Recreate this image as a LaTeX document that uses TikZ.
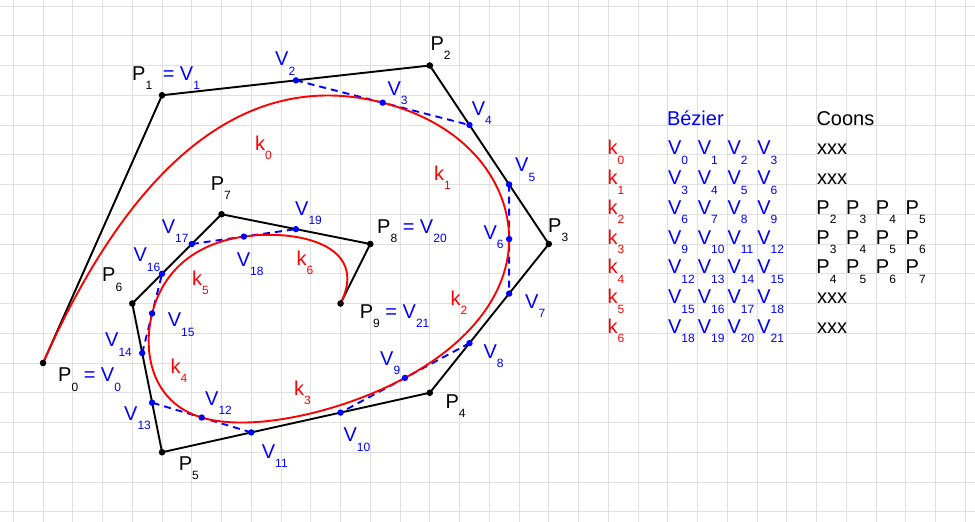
\documentclass[tikz,border=0pt]{standalone}
\usepackage{fontspec}
\setmainfont{Liberation Sans}
\usetikzlibrary{calc}
\definecolor{gridc}{RGB}{224,224,224}
\definecolor{vblue}{RGB}{0,0,255}
\definecolor{kred}{RGB}{255,0,0}
\newcommand\sbx[1]{\raisebox{-9.5pt}{\fontsize{12}{12}\selectfont #1}}
\newcommand\gx[1]{13.3+29.75*(#1)}
\newcommand\gy[1]{6+29.75*(#1)}
\begin{document}
\begin{tikzpicture}[x=1pt,y=-1pt,
  lbl/.style={anchor=base west,inner sep=0pt,font=\fontsize{20}{21}\selectfont},
  plbl/.style={lbl,text=black},
  vlbl/.style={lbl,text=vblue},
  klbl/.style={lbl,text=kred},
  gridline/.style={draw=gridc,line width=1pt},
  poly/.style={draw=black,line width=1.9pt,line join=round},
  dashv/.style={draw=vblue,line width=1.9pt,dash pattern=on 7pt off 5pt},
  curve/.style={draw=kred,line width=1.9pt},
  pdot/.style={fill=black},
  vdot/.style={fill=vblue}]
\useasboundingbox (0,0) rectangle (975,522);
\fill[white] (0,0) rectangle (975,522);
% grid
\foreach \i in {0,...,32} \draw[gridline] ({\gx{\i}},0) -- ({\gx{\i}},522);
\foreach \j in {0,...,17} \draw[gridline] (0,{\gy{\j}}) -- (975,{\gy{\j}});
% control points
\coordinate (P0) at ({\gx{1}},{\gy{12}});
\coordinate (P1) at ({\gx{5}},{\gy{3}});
\coordinate (P2) at ({\gx{14}},{\gy{2}});
\coordinate (P3) at ({\gx{18}},{\gy{8}});
\coordinate (P4) at ({\gx{14}},{\gy{13}});
\coordinate (P5) at ({\gx{5}},{\gy{15}});
\coordinate (P6) at ({\gx{4}},{\gy{10}});
\coordinate (P7) at ({\gx{7}},{\gy{7}});
\coordinate (P8) at ({\gx{12}},{\gy{8}});
\coordinate (P9) at ({\gx{11}},{\gy{10}});
% Bezier points
\coordinate (V2) at ($(P1)!0.5!(P2)$);
\coordinate (V4) at ($(P2)!1/3!(P3)$);
\coordinate (V3) at ($(V2)!0.5!(V4)$);
\coordinate (V5) at ($(P2)!2/3!(P3)$);
\coordinate (V7) at ($(P3)!1/3!(P4)$);
\coordinate (V6) at ($(V5)!0.5!(V7)$);
\coordinate (V8) at ($(P3)!2/3!(P4)$);
\coordinate (V10) at ($(P4)!1/3!(P5)$);
\coordinate (V9) at ($(V8)!0.5!(V10)$);
\coordinate (V11) at ($(P4)!2/3!(P5)$);
\coordinate (V13) at ($(P5)!1/3!(P6)$);
\coordinate (V12) at ($(V11)!0.5!(V13)$);
\coordinate (V14) at ($(P5)!2/3!(P6)$);
\coordinate (V16) at ($(P6)!1/3!(P7)$);
\coordinate (V15) at ($(V14)!0.5!(V16)$);
\coordinate (V17) at ($(P6)!2/3!(P7)$);
\coordinate (V19) at ($(P7)!0.5!(P8)$);
\coordinate (V18) at ($(V17)!0.5!(V19)$);
% control polygon
\draw[poly] (P0) -- (P1) -- (P2) -- (P3) -- (P4) -- (P5) -- (P6) -- (P7) -- (P8) -- (P9);
% dashed tangents
\draw[dashv] (V2) -- (V4);
\draw[dashv] (V5) -- (V7);
\draw[dashv] (V8) -- (V10);
\draw[dashv] (V11) -- (V13);
\draw[dashv] (V14) -- (V16);
\draw[dashv] (V17) -- (V19);
% spline
\draw[curve] (P0) .. controls (P1) and (V2) .. (V3)
  .. controls (V4) and (V5) .. (V6)
  .. controls (V7) and (V8) .. (V9)
  .. controls (V10) and (V11) .. (V12)
  .. controls (V13) and (V14) .. (V15)
  .. controls (V16) and (V17) .. (V18)
  .. controls (V19) and (P8) .. (P9);
% dots
\foreach \i in {2,...,19} \fill[vdot] (V\i) circle (3.2pt);
\foreach \i in {0,...,9} \fill[pdot] (P\i) circle (3.3pt);
% point labels
\node[plbl] (lP0) at (58,381.7) {P\sbx{0} \textcolor{vblue}{= V\sbx{0}}};
\node[plbl] (lP1) at (132,80) {P\sbx{1}\hspace{5pt} \textcolor{vblue}{= V\sbx{1}}};
\node[plbl] (lP2) at (430.3,50) {P\sbx{2}};
\node[plbl] (lP3) at (548,232) {P\sbx{3}};
\node[plbl] (lP4) at (445.3,408.3) {P\sbx{4}};
\node[plbl] (lP5) at (178.7,470) {P\sbx{5}};
\node[plbl] (lP6) at (102,281.7) {P\sbx{6}};
\node[plbl] (lP7) at (210.7,190) {P\sbx{7}};
\node[plbl] (lP8) at (377,233.3) {P\sbx{8} \textcolor{vblue}{= V\sbx{20}}};
\node[plbl] (lP9) at (359.7,318.3) {P\sbx{9} \textcolor{vblue}{= V\sbx{21}}};
\node[vlbl] (lV2) at (275,65.7) {V\sbx{2}};
\node[vlbl] (lV3) at (387.3,95) {V\sbx{3}};
\node[vlbl] (lV4) at (471.7,115) {V\sbx{4}};
\node[vlbl] (lV5) at (515,171.7) {V\sbx{5}};
\node[vlbl] (lV6) at (483.3,239) {V\sbx{6}};
\node[vlbl] (lV7) at (525,308.3) {V\sbx{7}};
\node[vlbl] (lV8) at (483.3,358.3) {V\sbx{8}};
\node[vlbl] (lV9) at (380,365) {V\sbx{9}};
\node[vlbl] (lV10) at (343.3,441.7) {V\sbx{10}};
\node[vlbl] (lV11) at (261.7,458.3) {V\sbx{11}};
\node[vlbl] (lV12) at (205,405) {V\sbx{12}};
\node[vlbl] (lV13) at (124,420) {V\sbx{13}};
\node[vlbl] (lV14) at (105,346.7) {V\sbx{14}};
\node[vlbl] (lV15) at (167.7,326.7) {V\sbx{15}};
\node[vlbl] (lV16) at (133.3,261.7) {V\sbx{16}};
\node[vlbl] (lV17) at (161.7,233.3) {V\sbx{17}};
\node[vlbl] (lV18) at (236.7,266) {V\sbx{18}};
\node[vlbl] (lV19) at (295,215) {V\sbx{19}};
% curve labels
\node[klbl] (lk0) at (255,150) {k\sbx{0}};
\node[klbl] (lk1) at (434,180) {k\sbx{1}};
\node[klbl] (lk2) at (450.5,305) {k\sbx{2}};
\node[klbl] (lk3) at (294,395) {k\sbx{3}};
\node[klbl] (lk4) at (170.5,373.3) {k\sbx{4}};
\node[klbl] (lk5) at (192,285) {k\sbx{5}};
\node[klbl] (lk6) at (296.5,265) {k\sbx{6}};
% table
\node[vlbl] (tB) at (666.8,125) {Bézier};
\node[plbl] (tC) at (816.3,125) {Coons};
\foreach \r in {0,...,6} {
  \node[klbl] (tk\r) at (607.3,{\gy{5+\r}}) {k\sbx{\r}};
  \foreach \c in {0,...,3} {
    \pgfmathtruncatemacro\idx{3*\r+\c}
    \node[vlbl] (tV\r\c) at ({\gx{22+\c}},{\gy{5+\r}}) {V\sbx{\idx}};
  }
}
\foreach \r in {0,1,5,6} \node[plbl] (tx\r) at (817,{\gy{5+\r}}) {xxx};
\foreach \r in {2,3,4} {
  \foreach \c in {0,...,3} {
    \pgfmathtruncatemacro\idx{\r+\c}
    \node[plbl] (tP\r\c) at ({\gx{27+\c}-0.3},{\gy{5+\r}}) {P\sbx{\idx}};
  }
}
\end{tikzpicture}
\end{document}
